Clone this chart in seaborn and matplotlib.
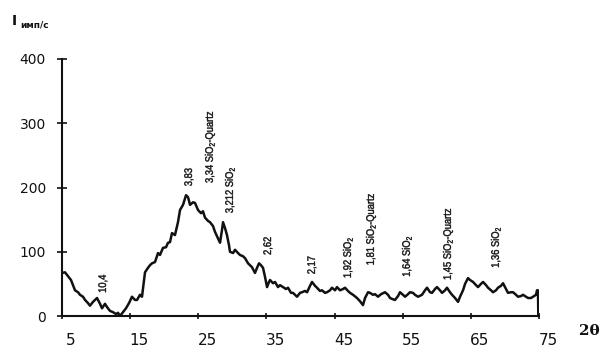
import matplotlib
matplotlib.use("Agg")
import matplotlib.pyplot as plt
import matplotlib.transforms as mtransforms
from matplotlib.textpath import TextPath
from matplotlib.patches import PathPatch
from matplotlib.font_manager import FontProperties
import seaborn as sns
import pandas as pd

# Diffraction scan: 2-theta (degrees) and intensity (counts/s)
two_theta = [
    5.00, 5.44, 5.88, 6.32, 6.91, 7.35, 7.64, 8.08, 8.38, 8.82, 9.11, 9.55, 10.14,
    10.58, 10.87, 11.31, 11.60, 12.04, 12.48, 12.92, 13.22, 13.51, 13.95, 14.39,
    14.83, 15.27, 15.71, 16.01, 16.45, 16.74, 17.18, 17.62, 17.91, 18.21, 18.65,
    19.09, 19.38, 19.82, 20.26, 20.56, 20.85, 21.14, 21.58, 22.02, 22.32, 22.76,
    23.20, 23.49, 23.79, 24.23, 24.52, 24.96, 25.40, 25.69, 25.99, 26.43, 26.72,
    27.16, 27.45, 27.89, 28.19, 28.48, 28.63, 28.92, 29.21, 29.51, 29.65, 30.10,
    30.39, 30.83, 31.12, 31.56, 31.86, 32.30, 32.59, 32.88, 33.32, 33.62, 33.91,
    34.20, 34.50, 34.79, 35.09, 35.38, 35.53, 35.97, 36.26, 36.70, 36.99, 37.43,
    37.87, 38.17, 38.61, 38.90, 39.49, 39.93, 40.22, 40.66, 40.96, 41.40, 41.69,
    42.13, 42.42, 42.86, 43.16, 43.60, 43.89, 44.33, 44.62, 45.06, 45.36, 45.80,
    46.24, 46.53, 46.97, 47.27, 47.71, 48.29, 48.73, 49.17, 49.47, 49.91, 50.20,
    50.64, 50.94, 51.38, 51.82, 52.40, 52.84, 53.14, 53.58, 53.87, 54.31, 54.60,
    55.04, 55.34, 55.78, 56.07, 56.51, 56.80, 57.25, 57.83, 58.27, 58.57, 59.01,
    59.30, 59.74, 60.03, 60.47, 60.77, 61.21, 61.50, 61.94, 62.24, 62.68, 63.12,
    63.41, 63.85, 64.15, 64.58, 64.88, 65.32, 65.76, 66.05, 66.49, 66.79, 67.23,
    67.52, 67.96, 68.25, 68.69, 68.98, 69.43, 69.72, 70.16, 70.45, 70.89, 71.19,
    71.63, 71.92, 72.36, 72.65, 73.10, 73.39, 73.83, 74.12, 74.56, 74.71, 74.85,
    74.90,
]
intensity = [
    67, 68, 62, 56, 40, 37, 33, 30, 25, 20, 16, 22, 28,
    19, 12, 19, 14, 8, 6, 3, 5, 0, 6, 12,
    20, 30, 25, 25, 33, 30, 68, 75, 79, 82, 84,
    98, 95, 106, 107, 114, 115, 129, 126, 146, 165, 173,
    188, 185, 173, 177, 176, 165, 160, 163, 153, 148, 146,
    140, 131, 121, 114, 134, 146, 137, 126, 110, 100, 98,
    103, 98, 95, 93, 90, 82, 79, 76, 67, 75, 82,
    79, 75, 61, 45, 53, 56, 51, 53, 45, 48, 45,
    42, 44, 36, 36, 30, 36, 37, 39, 37, 47, 53,
    47, 44, 39, 40, 36, 37, 40, 44, 40, 45, 40,
    42, 44, 39, 36, 33, 28, 23, 17, 28, 37, 36,
    33, 34, 30, 34, 37, 33, 28, 26, 25, 31, 37,
    33, 30, 34, 37, 36, 33, 30, 33, 40, 44, 37,
    36, 42, 45, 40, 36, 40, 44, 37, 33, 28, 22,
    30, 40, 50, 59, 56, 53, 48, 45, 50, 53, 48,
    44, 40, 37, 40, 44, 47, 51, 42, 36, 37, 37,
    33, 30, 31, 33, 30, 28, 28, 30, 33, 40, 40,
    0,
]

# Peak annotations: d-spacing text, 2-theta position, intensity at label base
peak_labels = ["10,4", "3,83", "3,34 SiO$_2$-Quartz", "3,212 SiO$_2$", "2,62", "2,17",
               "1,92 SiO$_2$", "1,81 SiO$_2$-Quartz", "1,64 SiO$_2$",
               "1,45 SiO$_2$-Quartz", "1,36 SiO$_2$"]
peak_x = [10.87, 23.49, 26.57, 29.51, 35.09, 41.54, 46.83, 50.20, 55.48, 61.50, 68.54]
peak_y = [36, 202, 207, 160, 95, 65, 59, 79, 61, 56, 75]

x_ticks = [5, 15, 25, 35, 45, 55, 65, 75]
y_ticks = [0, 100, 200, 300, 400]

sns.set_theme(style="white")
plt.rcParams["font.family"] = ["DejaVu Sans"]
plt.rcParams["mathtext.fontset"] = "custom"
plt.rcParams["mathtext.rm"] = "Liberation Sans"
plt.rcParams["mathtext.it"] = "Liberation Sans:italic"
plt.rcParams["mathtext.bf"] = "Liberation Sans:bold"

ink = "#111111"
df = pd.DataFrame({"two_theta": two_theta, "intensity": intensity})

fig = plt.figure(figsize=(6.02, 3.47), dpi=100)
ax = fig.add_axes([62 / 602, 31 / 347, 477 / 602, 257 / 347])

sns.lineplot(data=df, x="two_theta", y="intensity", ax=ax, estimator=None,
             sort=False, color=ink, linewidth=1.8)

ax.set_xlim(5, 75)
ax.set_ylim(0, 400)
ax.set_xticks(x_ticks)
ax.set_yticks(y_ticks)
ax.set_xlabel("")
ax.set_ylabel("")
sns.despine(ax=ax)
for side in ("left", "bottom"):
    ax.spines[side].set_color(ink)
    ax.spines[side].set_linewidth(1.5)

ax.tick_params(axis="y", direction="inout", length=7, width=1.2, color=ink,
               labelsize=10, pad=8, labelcolor=ink, left=True)
ax.tick_params(axis="x", direction="inout", length=5, width=1.2, color=ink,
               labelsize=11, pad=10, labelcolor=ink, bottom=True)
ax.set_xticklabels([str(v) for v in x_ticks])
# x labels sit slightly right of their ticks
shift = mtransforms.ScaledTranslation(9 / 100, 0, fig.dpi_scale_trans)
for lbl in ax.get_xticklabels():
    lbl.set_transform(lbl.get_transform() + shift)

# Peak labels in a narrow face: outline paths squeezed along the text direction
label_prop = FontProperties(family="Liberation Sans")
label_px = 11
squeeze = 0.85
for txt, px, py in zip(peak_labels, peak_x, peak_y):
    tp = TextPath((0, 0), txt, size=label_px, prop=label_prop)
    place = (mtransforms.Affine2D()
             .translate(0, -label_px * 0.716 / 2)
             .scale(squeeze, 1.0)
             .rotate_deg(90)
             + mtransforms.ScaledTranslation(px, py, ax.transData))
    patch = PathPatch(tp, transform=place, facecolor=ink, edgecolor=ink,
                      linewidth=0.3, clip_on=False)
    ax.add_artist(patch)

# Axis titles
fig.text(12 / 602, 1 - 25 / 347, "I", fontsize=10, fontweight="bold",
         color=ink, ha="left", va="baseline")
fig.text(20 / 602, 1 - 28 / 347, "имп/с", fontsize=6.5, fontweight="bold",
         color=ink, ha="left", va="baseline")
fig.text(589 / 602, 1 - 331 / 347, "2θ", fontsize=11, fontweight="bold",
         family=["DejaVu Serif"], color=ink, ha="center", va="center")

fig.savefig("out.png", dpi=100, facecolor="white")
